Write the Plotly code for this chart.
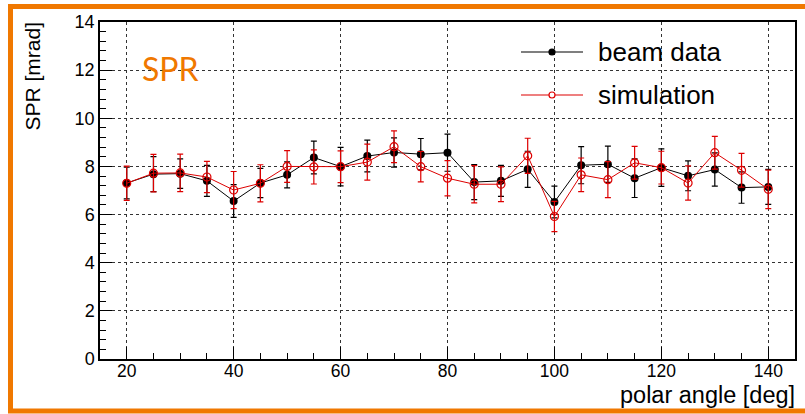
import plotly.graph_objects as go

# ---------------- data ----------------
angles = [20, 25, 30, 35, 40, 45, 50, 55, 60, 65, 70, 75, 80, 85, 90, 95, 100,
          105, 110, 115, 120, 125, 130, 135, 140]
beam = [7.31, 7.68, 7.70, 7.40, 6.56, 7.31, 7.65, 8.37, 7.99, 8.43, 8.58, 8.51, 8.57,
        7.35, 7.40, 7.88, 6.52, 8.05, 8.09, 7.51, 7.95, 7.61, 7.87, 7.12, 7.15]
beam_err = [0.66, 0.73, 0.61, 0.64, 0.68, 0.61, 0.54, 0.68, 0.80, 0.66, 0.61, 0.65, 0.77,
            0.73, 0.64, 0.75, 0.66, 0.77, 0.75, 0.80, 0.78, 0.62, 0.69, 0.65, 0.73]
sim = [7.30, 7.72, 7.73, 7.56, 7.02, 7.30, 8.00, 7.98, 7.99, 8.18, 8.82, 7.99, 7.51,
       7.26, 7.26, 8.44, 5.92, 7.65, 7.45, 8.15, 7.95, 7.31, 8.57, 7.84, 7.05]
sim_err = [0.71, 0.78, 0.78, 0.65, 0.77, 0.77, 0.66, 0.71, 0.66, 0.75, 0.66, 0.63, 0.73,
           0.77, 0.72, 0.73, 0.63, 0.70, 0.75, 0.68, 0.68, 0.71, 0.68, 0.70, 0.80]
series_names = ["beam data", "simulation"]
x_ticks = [20, 40, 60, 80, 100, 120, 140]
y_ticks = [0, 2, 4, 6, 8, 10, 12, 14]

W, H = 805, 414
L, R, T, B = 100, 795, 22, 359
ORANGE = "#F07800"
RED = "#DD0000"
FONT = "Liberation Sans, Arial, Helvetica, sans-serif"


def px(x):
    return (x - L) / (R - L)


def py(y):
    return (B - y) / (B - T)


fig = go.Figure()
fig.add_trace(go.Scatter(
    x=angles, y=beam, mode="lines+markers", name=series_names[0],
    line=dict(color="black", width=1),
    marker=dict(color="black", size=8, symbol="circle"),
    error_y=dict(type="data", array=beam_err, visible=True, color="black",
                 thickness=1.2, width=3),
    showlegend=False,
))
fig.add_trace(go.Scatter(
    x=angles, y=sim, mode="lines+markers", name=series_names[1],
    line=dict(color=RED, width=1),
    marker=dict(color=RED, size=8, symbol="circle-open", line=dict(width=1.2, color=RED)),
    error_y=dict(type="data", array=sim_err, visible=True, color=RED,
                 thickness=1.2, width=3),
    showlegend=False,
))

shapes = []
# orange frame (left, top, bottom)
shapes.append(dict(type="line", xref="paper", yref="paper",
                   x0=px(10.5), x1=px(10.5), y0=py(4), y1=py(413),
                   line=dict(color=ORANGE, width=5)))
shapes.append(dict(type="line", xref="paper", yref="paper",
                   x0=px(8), x1=px(806), y0=py(6.5), y1=py(6.5),
                   line=dict(color=ORANGE, width=5)))
shapes.append(dict(type="line", xref="paper", yref="paper",
                   x0=px(8), x1=px(806), y0=py(411), y1=py(411),
                   line=dict(color=ORANGE, width=5)))

# manual legend
leg_y = [52, 95]
leg_col = ["black", RED]
for yy, col, fill in zip(leg_y, leg_col, ["black", "white"]):
    shapes.append(dict(type="line", xref="paper", yref="paper",
                       x0=px(521), x1=px(583), y0=py(yy), y1=py(yy),
                       line=dict(color=col, width=1.2)))
    shapes.append(dict(type="circle", xref="paper", yref="paper",
                       x0=px(549), x1=px(555), y0=py(yy + 3), y1=py(yy - 3),
                       fillcolor=fill, line=dict(color=col, width=1.2)))

annotations = []
for yy, name in zip(leg_y, series_names):
    annotations.append(dict(xref="paper", yref="paper", x=px(596), y=py(yy),
                            xanchor="left", yanchor="middle", text=name,
                            showarrow=False, font=dict(family=FONT, size=26, color="black")))
annotations.append(dict(xref="paper", yref="paper", x=px(170), y=py(68),
                        xanchor="center", yanchor="middle", text="SPR", showarrow=False,
                        font=dict(family="Lato, Open Sans, sans-serif", size=32, color=ORANGE)))
# axis titles (ROOT-style, aligned to axis end)
annotations.append(dict(xref="paper", yref="paper", x=px(796), y=py(395),
                        xanchor="right", yanchor="middle", text="polar angle [deg]",
                        showarrow=False, borderpad=0,
                        font=dict(family=FONT, size=23.5, color="black")))
annotations.append(dict(xref="paper", yref="paper", x=px(32), y=py(20),
                        xanchor="center", yanchor="top", text="SPR [mrad]", textangle=-90,
                        showarrow=False, font=dict(family=FONT, size=21, color="black")))

fig.update_layout(
    width=W, height=H,
    margin=dict(l=L, r=W - R, t=T, b=H - B, autoexpand=False),
    paper_bgcolor="white", plot_bgcolor="white",
    shapes=shapes, annotations=annotations,
    font=dict(family=FONT, size=18, color="black"),
)
fig.update_xaxes(
    range=[15, 145], tickvals=x_ticks, ticktext=[str(v) for v in x_ticks],
    ticks="inside", ticklen=12, tickwidth=1, tickcolor="black",
    ticklabelstandoff=-5,
    minor=dict(dtick=5, tick0=0, ticks="inside", ticklen=6, tickcolor="black", showgrid=False),
    showline=True, linecolor="black", linewidth=1.5, mirror=True,
    showgrid=True, gridcolor="#333333", gridwidth=1, griddash="dot",
    zeroline=False, tickfont=dict(family=FONT, size=17.5, color="black"),
)
fig.update_yaxes(
    range=[0, 14], tickvals=y_ticks, ticktext=[str(v) for v in y_ticks],
    ticks="inside", ticklen=12, tickwidth=1, tickcolor="black",
    minor=dict(dtick=0.4, tick0=0, ticks="inside", ticklen=6, tickcolor="black", showgrid=False),
    showline=True, linecolor="black", linewidth=1.5, mirror=True,
    showgrid=True, gridcolor="#333333", gridwidth=1, griddash="dot",
    zeroline=False, tickfont=dict(family=FONT, size=18, color="black"),
)

fig.write_html(
    "out.html",
    config={"displayModeBar": False},
    post_script="document.body.style.margin='0';document.body.style.overflow='hidden';",
)
